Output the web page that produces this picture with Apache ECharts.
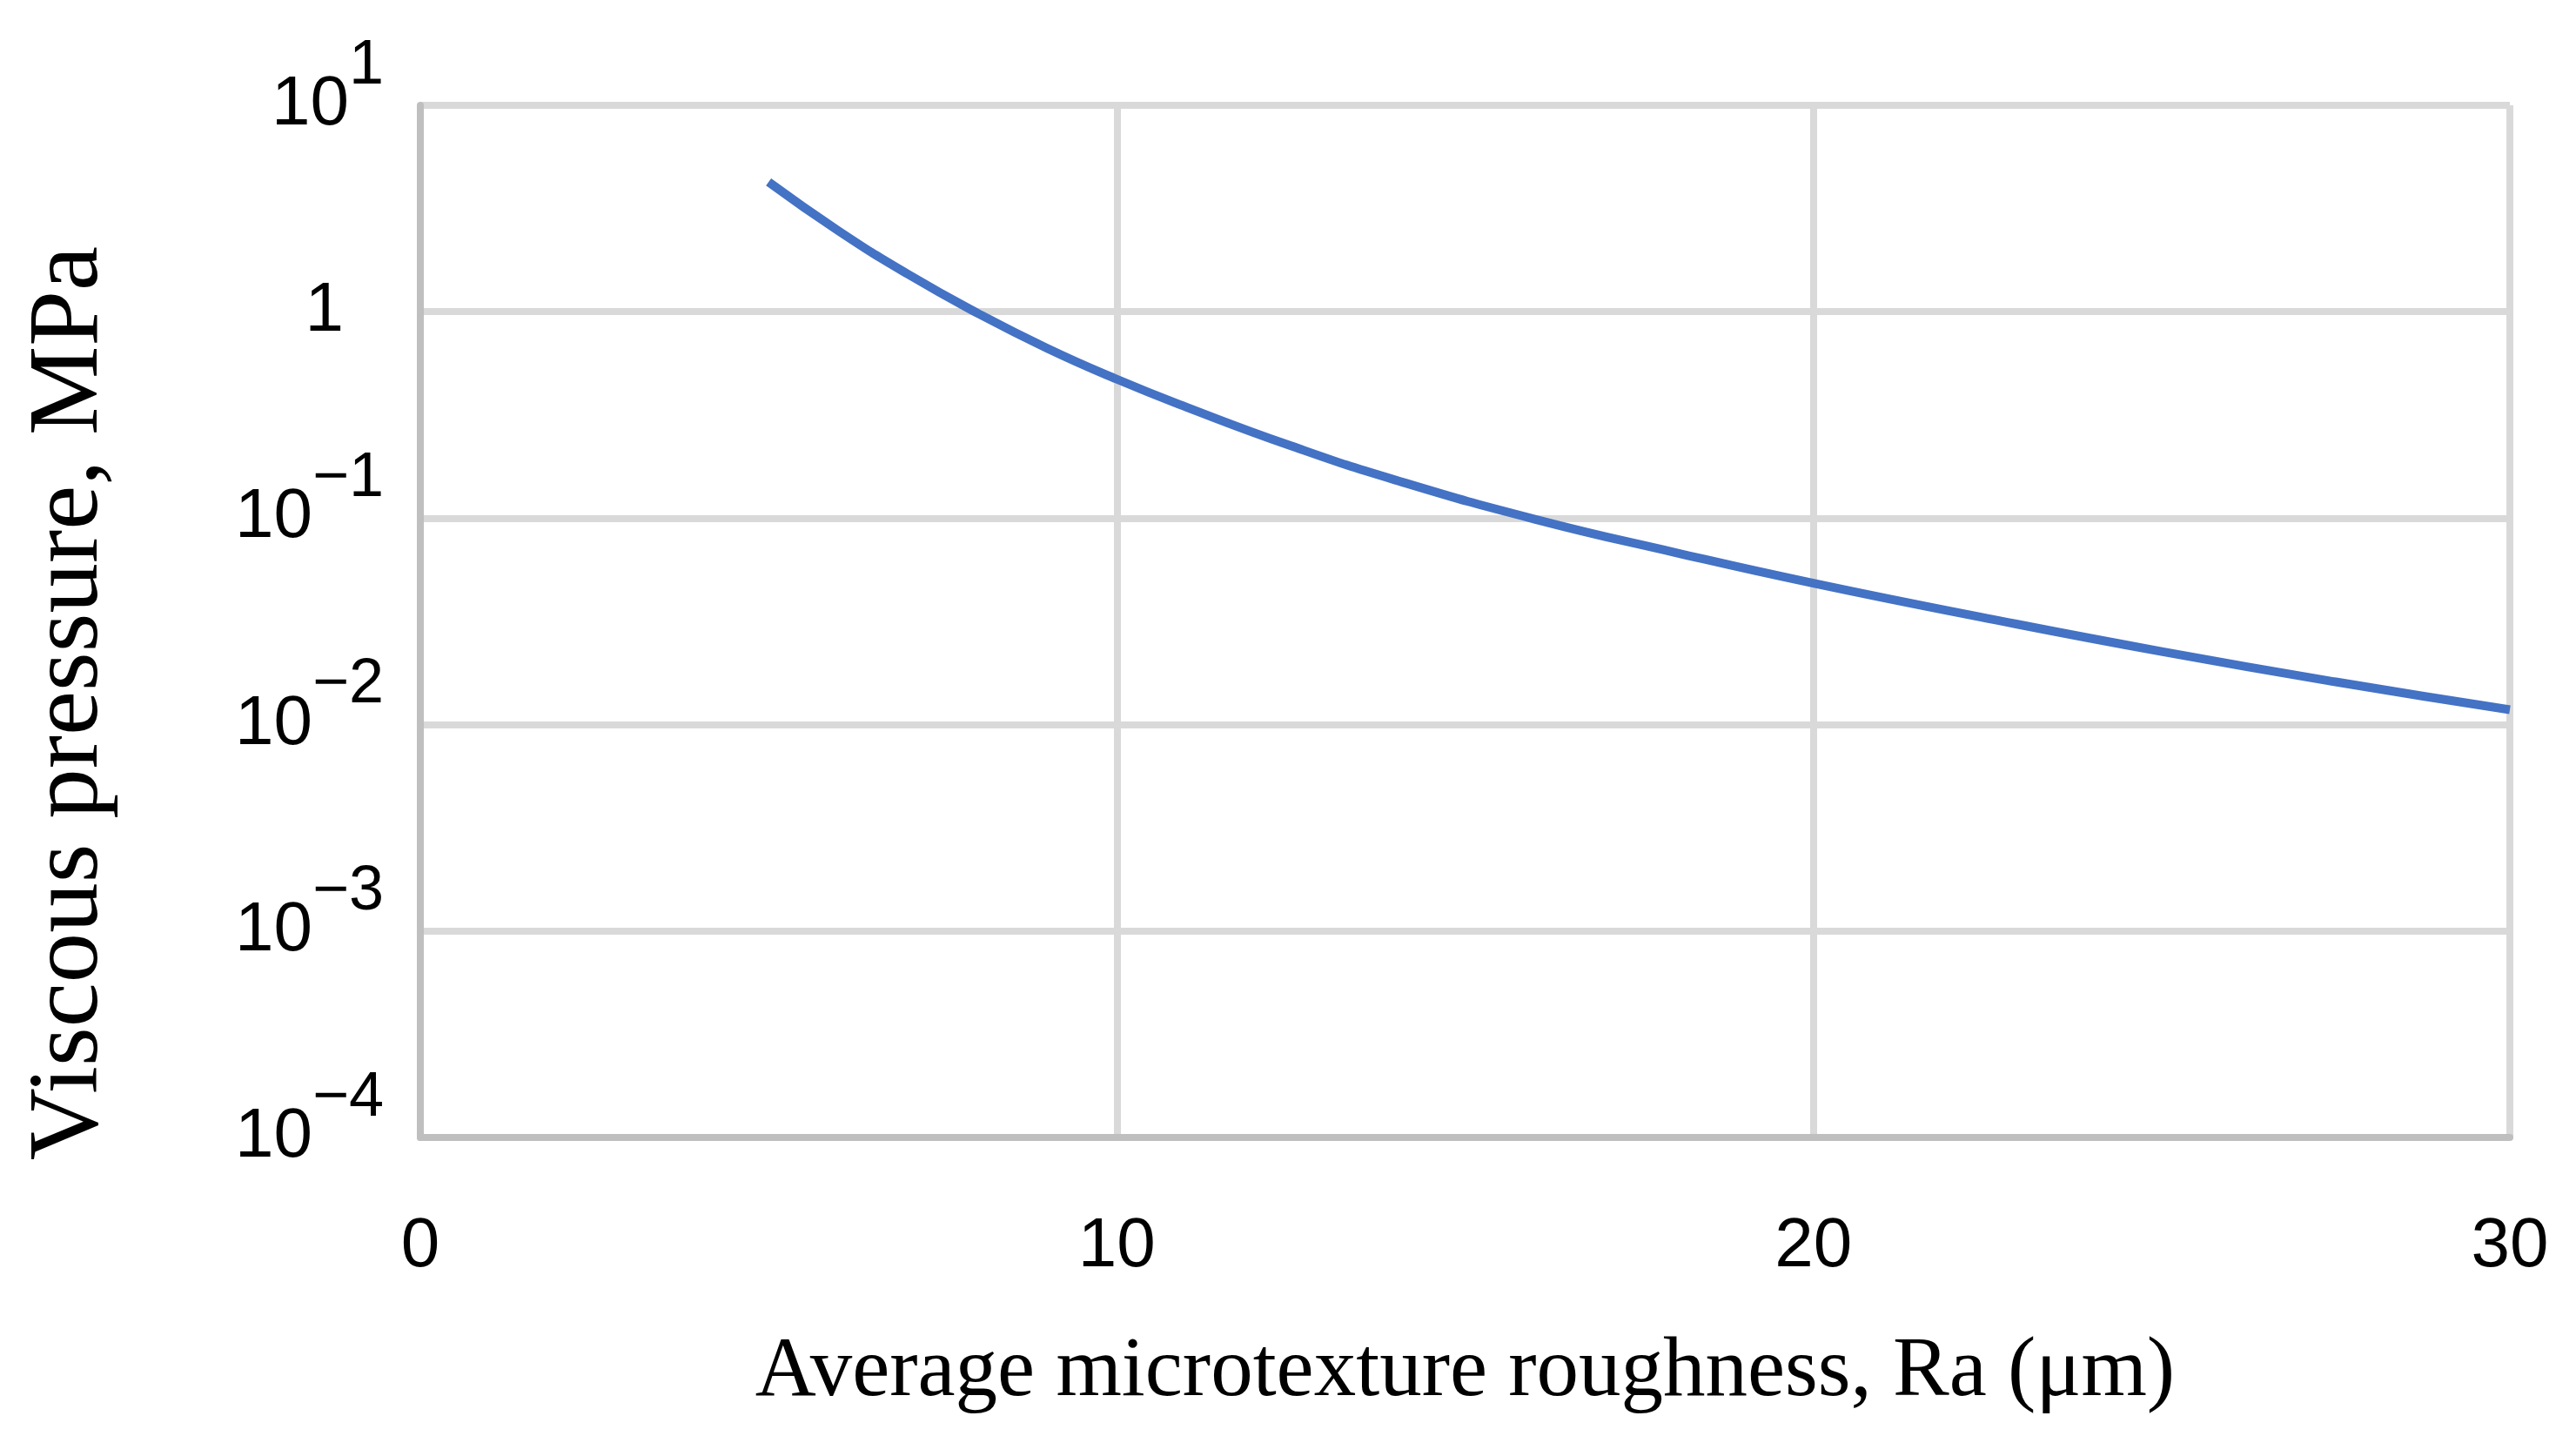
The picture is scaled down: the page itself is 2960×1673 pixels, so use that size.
<!DOCTYPE html>
<html>
<head>
<meta charset="utf-8">
<title>Viscous pressure vs roughness</title>
<script src="https://cdn.jsdelivr.net/npm/echarts@6/dist/echarts.min.js"></script>
<style>
  html, body { margin: 0; padding: 0; background: #fff; }
  #chart { width: 2960px; height: 1673px; }
</style>
</head>
<body>
<div id="chart"></div>
<script>
// values (Ra in µm, pressure in MPa)
const roughness = [5, 6, 7, 8, 9, 10, 11, 12.5, 14, 16, 18, 20, 22.5, 25, 27.5, 30];
const pressure = [4.25, 2.47, 1.52, 0.984, 0.665, 0.471, 0.345, 0.224, 0.153, 0.0989, 0.0684, 0.0484, 0.0327, 0.0226, 0.0161, 0.0118];

const xTicks = [0, 10, 20, 30];
// decade ticks on the log axis and the exponent shown for each
const yTickValues = [0.0001, 0.001, 0.01, 0.1, 1, 10];
const yTickExponents = ['−4', '−3', '−2', '−1', null, '1'];

const xTitle = 'Average microtexture roughness, Ra (μm)';
const yTitle = 'Viscous pressure, MPa';

const lineColor = '#4472C4';
const gridColor = '#D9D9D9';
const axisColor = '#BFBFBF';

const chart = echarts.init(document.getElementById('chart'), null, { renderer: 'canvas' });

const seriesData = roughness.map((r, i) => [r, pressure[i]]);

function yLabel(value) {
    let idx = -1;
    yTickValues.forEach((v, i) => {
        if (Math.abs(Math.log10(v) - Math.log10(value)) < 1e-6) idx = i;
    });
    if (idx < 0) return '';
    const exp = yTickExponents[idx];
    if (exp === null) return '{one|1}';
    return '{b|10}{s|' + exp + '}';
}

const option = {
    backgroundColor: '#ffffff',
    animation: false,
    grid: {
        left: 483,
        right: 76,
        top: 121,
        bottom: 366,
        containLabel: false,
        outerBoundsMode: 'none'
    },
    xAxis: {
        type: 'value',
        min: 0,
        max: 30,
        interval: 10,
        name: xTitle,
        nameLocation: 'middle',
        nameGap: 222,
        nameTextStyle: {
            fontFamily: 'Liberation Serif',
            fontSize: 97,
            color: '#000'
        },
        axisLine: { show: true, lineStyle: { color: axisColor, width: 8 } },
        axisTick: { show: false },
        axisLabel: {
            margin: 86,
            fontFamily: 'Liberation Sans',
            fontSize: 80,
            color: '#000',
            formatter: v => (xTicks.indexOf(v) >= 0 ? String(v) : '')
        },
        splitLine: {
            show: true,
            showMinLine: false,
            lineStyle: { color: gridColor, width: 8 }
        }
    },
    yAxis: {
        type: 'log',
        logBase: 10,
        min: 0.0001,
        max: 10,
        name: yTitle,
        nameLocation: 'middle',
        nameGap: 345,
        nameTextStyle: {
            fontFamily: 'Liberation Serif',
            fontSize: 115,
            color: '#000',
            padding: [0, 188, 0, 0]
        },
        axisLine: { show: true, lineStyle: { color: axisColor, width: 8 } },
        axisTick: { show: false },
        axisLabel: {
            margin: 42,
            color: '#000',
            formatter: yLabel,
            rich: {
                b: {
                    fontFamily: 'Liberation Sans',
                    fontSize: 80,
                    lineHeight: 80,
                    color: '#000'
                },
                // exponent: bottom padding lifts it above the base
                s: {
                    fontFamily: 'Liberation Sans',
                    fontSize: 72,
                    lineHeight: 72,
                    color: '#000',
                    padding: [0, 0, 90, 0]
                },
                one: {
                    fontFamily: 'Liberation Sans',
                    fontSize: 80,
                    lineHeight: 80,
                    color: '#000',
                    padding: [0, 46, 0, 0]
                }
            }
        },
        splitLine: {
            show: true,
            showMinLine: false,
            lineStyle: { color: gridColor, width: 8 }
        }
    },
    series: [
        {
            type: 'line',
            data: seriesData,
            smooth: true,
            showSymbol: false,
            symbol: 'none',
            lineStyle: { color: lineColor, width: 10 },
            z: 5
        }
    ]
};

chart.setOption(option);
</script>
</body>
</html>
